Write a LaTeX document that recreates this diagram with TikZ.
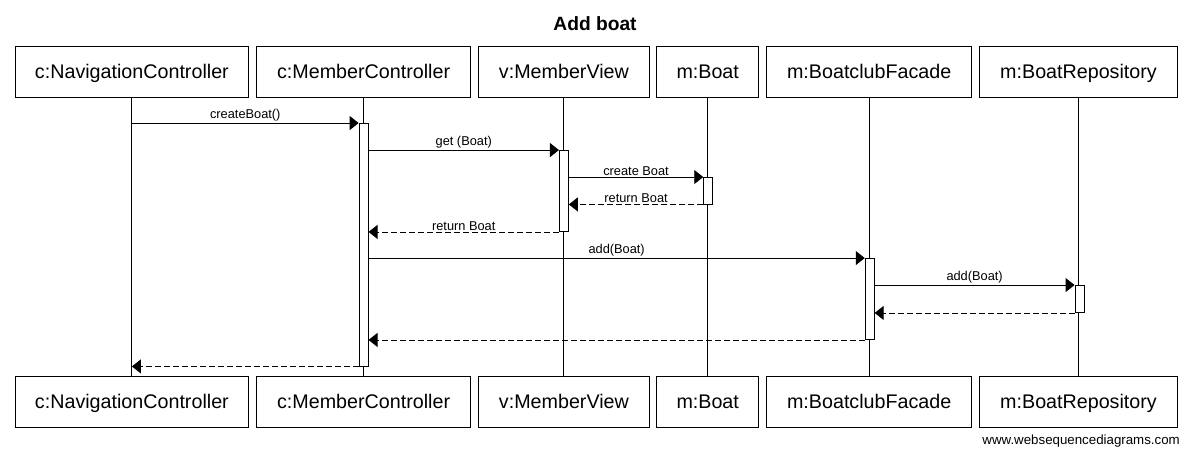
\documentclass[tikz,border=0pt]{standalone}
\usepackage{fontspec}
\setmainfont{Liberation Sans}
\usetikzlibrary{arrows.meta}
\begin{document}
\begin{tikzpicture}[x=1pt,y=-1pt,
  actor/.style={draw, line width=1pt, inner sep=0pt, minimum height=50.6pt, text height=16pt, text depth=3.4pt, font=\fontsize{19.7}{22}\selectfont},
  lifeline/.style={line width=0.9pt},
  act/.style={draw, fill=white, line width=0.9pt, inner sep=0pt, minimum width=9pt},
  msg/.style={line width=0.9pt, -{Triangle[length=9pt,width=14pt]}},
  ret/.style={msg, dash pattern=on 6pt off 3pt},
  lbl/.style={above, inner sep=1.2pt, font=\fontsize{12.8}{14}\selectfont}]
\useasboundingbox (0,0) rectangle (1188,449);
\fill[white] (0,0) rectangle (1188,449);
\node[font=\bfseries\fontsize{19.2}{22}\selectfont] (title) at (595,23.5) {Add boat};
% top actors
\node[actor, minimum width=233pt] (t1) at (131.9,72) {c:NavigationController};
\node[actor, minimum width=214.3pt] (t2) at (363.6,72) {c:MemberController};
\node[actor, minimum width=170.9pt] (t3) at (563.9,72) {v:MemberView};
\node[actor, minimum width=102.2pt] (t4) at (707.7,72) {m:Boat};
\node[actor, minimum width=204.7pt] (t5) at (869.2,72) {m:BoatclubFacade};
\node[actor, minimum width=197.8pt] (t6) at (1078.5,72) {m:BoatRepository};
% bottom actors
\node[actor, minimum width=233pt] (b1) at (131.9,402.2) {c:NavigationController};
\node[actor, minimum width=214.3pt] (b2) at (363.6,402.2) {c:MemberController};
\node[actor, minimum width=170.9pt] (b3) at (563.9,402.2) {v:MemberView};
\node[actor, minimum width=102.2pt] (b4) at (707.7,402.2) {m:Boat};
\node[actor, minimum width=204.7pt] (b5) at (869.2,402.2) {m:BoatclubFacade};
\node[actor, minimum width=197.8pt] (b6) at (1078.5,402.2) {m:BoatRepository};
% lifelines
\foreach \i in {1,...,6} {\draw[lifeline] (t\i.south) -- (b\i.north);}
% activations
\node[act, minimum height=242.5pt] (a2) at (363.6,244.75) {};
\node[act, minimum height=81pt] (a3) at (563.9,191) {};
\node[act, minimum height=26.5pt] (a4) at (708.2,190.75) {};
\node[act, minimum height=81pt] (a5) at (869.7,299) {};
\node[act, minimum height=27pt] (a6) at (1079.5,299) {};
% messages
\draw[msg] (t1.south |- a2.north west) -- node[lbl] {createBoat()} (a2.north west);
\draw[msg] (a2.east |- a3.north west) -- node[lbl] {get (Boat)} (a3.north west);
\draw[msg] (a3.east |- a4.north west) -- node[lbl] {create Boat} (a4.north west);
\draw[ret] (a4.south west) -- node[lbl] {return Boat} (a3.east |- a4.south west);
\draw[ret] (a3.south west) -- node[lbl] {return Boat} (a2.east |- a3.south west);
\draw[msg] (a2.east |- a5.north west) -- node[lbl] {add(Boat)} (a5.north west);
\draw[msg] (a5.east |- a6.north west) -- node[lbl] {add(Boat)} (a6.north west);
\draw[ret] (a6.south west) -- (a5.east |- a6.south west);
\draw[ret] (a5.south west) -- (a2.east |- a5.south west);
\draw[ret] (a2.south west) -- (t1.south |- a2.south west);
% watermark
\node[anchor=east, inner sep=0pt, font=\fontsize{13.3}{15}\selectfont] (wm) at (1180,441) {www.websequencediagrams.com};
\end{tikzpicture}
\end{document}
